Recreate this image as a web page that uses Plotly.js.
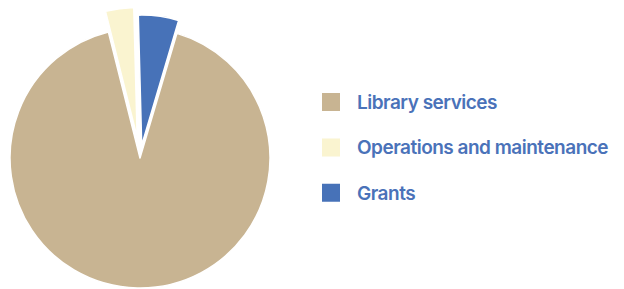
<!DOCTYPE html>
<html><head><meta charset="utf-8">
<script src="https://cdn.plot.ly/plotly-3.0.1.min.js"></script>
<style>
html,body{margin:0;padding:0;background:#fff;overflow:hidden;width:624px;height:289px}
#wrap{position:relative;width:624px;height:289px;overflow:hidden}
#chart{position:absolute;left:-20px;top:-20px}
</style>
</head><body><div id="wrap"><div id="chart"></div></div>
<script>
// ---- data ----
const categories = ['Library services', 'Operations and maintenance', 'Grants'];
const shares = [91.5, 3.5, 5.0];
const pulls = [0, 0.16, 0.1];
const sliceColors = ['#C8B492', '#FAF4D0', '#4772B8'];
const textColor = '#4A72B9';

// ---- geometry (window px) ----
const OFF = 20, W = 624 + 2 * OFF, H = 289 + 2 * OFF;
const cx = 140 + OFF, cy = 158 + OFF, R = 130;
const half = R * (1 + Math.max(...pulls));

const legendFont = 32.6;
const labelSize = 19;
const labelsHtml = categories.map(c =>
  '<span style="font-size:' + labelSize + 'px;letter-spacing:-0.5px">' + c + '</span>');

const trace = {
  type: 'pie',
  labels: labelsHtml,
  values: shares,
  pull: pulls,
  sort: false,
  direction: 'clockwise',
  rotation: 16.5,
  textinfo: 'none',
  hoverinfo: 'none',
  marker: { colors: sliceColors, line: { color: '#ffffff', width: 1.5 } },
  domain: { x: [(cx - half) / W, (cx + half) / W], y: [(H - cy - half) / H, (H - cy + half) / H] }
};

const layout = {
  width: W, height: H,
  margin: { l: 0, r: 0, t: 0, b: 0, pad: 0 },
  paper_bgcolor: '#ffffff',
  showlegend: true,
  legend: {
    x: (305 + OFF) / W, xanchor: 'left',
    y: 1 - (102 + OFF - (legendFont * 1.3 + 3) / 2 - 5) / H, yanchor: 'top',
    itemwidth: 42,
    font: { family: 'Inter, sans-serif', size: legendFont, color: textColor, weight: 600 },
    bgcolor: 'rgba(0,0,0,0)', borderwidth: 0,
    itemclick: false, itemdoubleclick: false
  }
};

function tidyLegend() {
  document.querySelectorAll('#chart path.legendpie').forEach(p => {
    p.setAttribute('d', 'M9,9H-9V-9H9Z');
    p.style.strokeWidth = '0px';
  });
  // centre the smaller label text on its symbol
  document.querySelectorAll('#chart text.legendtext').forEach(t => {
    t.setAttribute('y', (labelSize * 0.727 / 2).toFixed(2));
  });
}
const gd = document.getElementById('chart');
Plotly.newPlot(gd, [trace], layout, { displayModeBar: false, staticPlot: true }).then(() => {
  tidyLegend();
  gd.on && gd.on('plotly_afterplot', tidyLegend);
});
</script>
</body></html>
